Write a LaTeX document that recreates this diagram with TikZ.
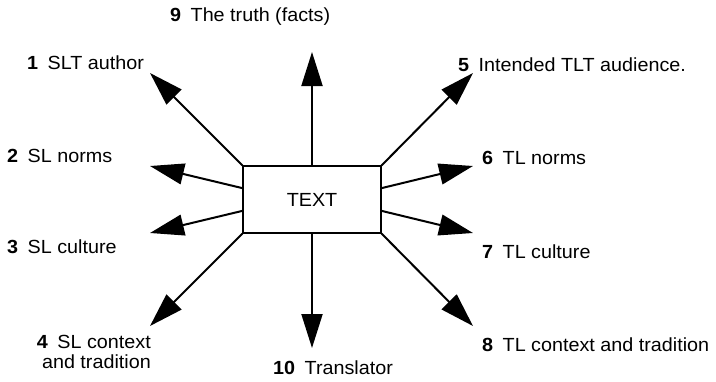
\documentclass[tikz,border=0pt]{standalone}
\usepackage{fontspec}
\setmainfont{Liberation Sans}[FakeStretch=1.04]
\usetikzlibrary{arrows.meta,calc}
\begin{document}
\begin{tikzpicture}[x=1pt,y=-1pt,font=\fontsize{19}{20}\selectfont]
    \tikzstyle{box node}=[draw,line width=1.2pt,minimum width=138pt,minimum height=67pt,inner sep=0]
    \tikzstyle{label node}=[inner sep=0,anchor=west]
    \tikzstyle{ray}=[line width=2pt,-{Triangle[length=34pt,width=21pt]}]

    \useasboundingbox (0,0) rectangle (716,381);

    \node(text)[box node] at (312,199.5){TEXT};

    % arrow tips
    \coordinate(t1) at (150,73);
    \coordinate(t2) at (150,166);
    \coordinate(t3) at (150,233);
    \coordinate(t4) at (150,326);
    \coordinate(t5) at (473,73);
    \coordinate(t6) at (473,166);
    \coordinate(t7) at (473,233);
    \coordinate(t8) at (473,326);
    \coordinate(t9) at (312,52);
    \coordinate(t10) at (312,348);

    % labels
    \node(l1)[label node] at (27,63){\textbf{1}\enspace SLT author};
    \node(l2)[label node] at (7,156){\textbf{2}\enspace SL norms};
    \node(l3)[label node] at (7,247){\textbf{3}\enspace SL culture};
    \node(l4)[label node,anchor=east,align=right] at (151,352){\textbf{4}\enspace SL context\\and tradition};
    \node(l5)[label node] at (458,65){\textbf{5}\enspace Intended TLT audience.};
    \node(l6)[label node] at (482,158){\textbf{6}\enspace TL norms};
    \node(l7)[label node] at (482,252){\textbf{7}\enspace TL culture};
    \node(l8)[label node] at (482,345){\textbf{8}\enspace TL context and tradition};
    \node(l9)[label node] at (170,17){\textbf{9}\enspace The truth (facts)};
    \node(l10)[label node] at (273,368){\textbf{10}\enspace Translator};

    \draw[ray](text.north west)--(t1);
    \draw[ray]($(text.north west)!1/3!(text.south west)$)--(t2);
    \draw[ray]($(text.north west)!2/3!(text.south west)$)--(t3);
    \draw[ray](text.south west)--(t4);
    \draw[ray](text.north east)--(t5);
    \draw[ray]($(text.north east)!1/3!(text.south east)$)--(t6);
    \draw[ray]($(text.north east)!2/3!(text.south east)$)--(t7);
    \draw[ray](text.south east)--(t8);
    \draw[ray](text.north)--(t9);
    \draw[ray](text.south)--(t10);
\end{tikzpicture}
\end{document}
